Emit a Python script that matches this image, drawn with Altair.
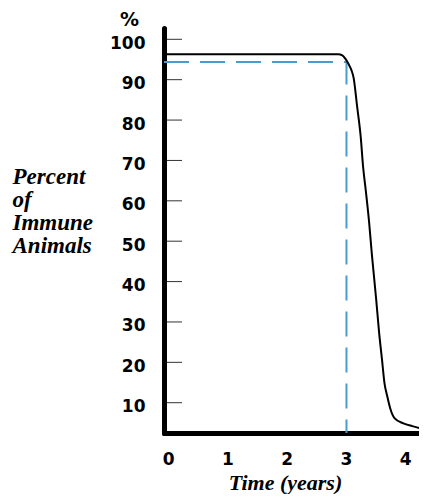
import altair as alt
import pandas as pd

# ---- data ----
curve_x = [-0.07, 2.87, 2.94, 2.99, 3.04, 3.09, 3.13, 3.19, 3.25, 3.29, 3.34, 3.39,
           3.44, 3.51, 3.56, 3.61, 3.65, 3.70, 3.75, 3.82, 3.97, 4.12, 4.25]
curve_y = [96.3, 96.3, 96.0, 95.2, 94.0, 92.5, 90.5, 83.3, 75.9, 68.5, 62.0, 55.0,
           46.5, 35.8, 27.5, 20.6, 15.0, 11.5, 8.5, 6.2, 4.9, 4.2, 3.7]

dash_x = [-0.07, 3.01, 3.01]
dash_y = [94.4, 94.4, 2.5]
dash_order = [0, 1, 2]

y_ticks = [10, 20, 30, 40, 50, 60, 70, 80, 90, 100]
x_ticks = [0, 1, 2, 3, 4]

y_title = ["Percent", "of", "Immune", "Animals"]
x_title = "Time (years)"
unit_label = "%"

curve_df = pd.DataFrame({"x": curve_x, "y": curve_y})
dash_df = pd.DataFrame({"x": dash_x, "y": dash_y, "o": dash_order})
tick_df = pd.DataFrame({"y": y_ticks})

x_scale = alt.Scale(domain=[-0.07, 4.234], nice=False, zero=False)
y_scale = alt.Scale(domain=[2.5, 102.8], nice=False, zero=False)

x_axis = alt.Axis(
    values=x_ticks, grid=False, ticks=False, labelPadding=31,
    labelFont="DejaVu Sans", labelFontWeight="bold", labelFontSize=17,
    labelColor="black", labelBaseline="alphabetic",
    domainColor="black", domainWidth=5, domainCap="round",
    title=x_title, titleFont="Liberation Serif", titleFontStyle="italic",
    titleFontWeight="bold", titleFontSize=22, titleColor="black",
    titleAlign="center", titleBaseline="alphabetic", titleX=121, titleY=56,
)
y_axis = alt.Axis(
    values=y_ticks, grid=False, ticks=False, labelPadding=19,
    labelFont="DejaVu Sans", labelFontWeight="bold", labelFontSize=17,
    labelColor="black", labelBaseline="alphabetic", labelAlign="right", labelOffset=9,
    domainColor="black", domainWidth=5, domainCap="round",
    title=y_title, titleFont="Liberation Serif", titleFontStyle="italic",
    titleFontWeight="bold", titleFontSize=23, titleColor="black", titleAngle=0,
    titleAlign="left", titleBaseline="alphabetic", titleX=-152, titleY=155,
    titleLineHeight=23.3,
)

X = alt.X("x:Q", scale=x_scale, axis=x_axis)
Y = alt.Y("y:Q", scale=y_scale, axis=y_axis)

curve = alt.Chart(curve_df).mark_line(
    color="black", strokeWidth=2, interpolate="monotone", clip=True
).encode(x=X, y=Y)

dash = alt.Chart(dash_df).mark_line(
    color="#4a9bcf", strokeWidth=2, strokeDash=[25, 11], clip=True
).encode(x=X, y=Y, order="o:Q")

ticks = alt.Chart(tick_df).mark_rule(color="#333333", strokeWidth=1).encode(
    y=Y, x=alt.value(3), x2=alt.value(18)
)

chart = alt.layer(ticks, dash, curve).properties(
    width=255, height=405,
    padding={"left": 156, "top": 20, "right": 0, "bottom": 61},
    autosize=alt.AutoSizeParams(type="none"),
    title=alt.TitleParams(
        unit_label, anchor="start", frame="group", dx=-44, dy=17, offset=0,
        font="DejaVu Sans", fontWeight="bold", fontSize=19, color="black",
        baseline="alphabetic",
    ),
    background="white",
).configure_view(stroke=None)

chart.save("out.html", embed_options={"renderer": "svg", "actions": False})
